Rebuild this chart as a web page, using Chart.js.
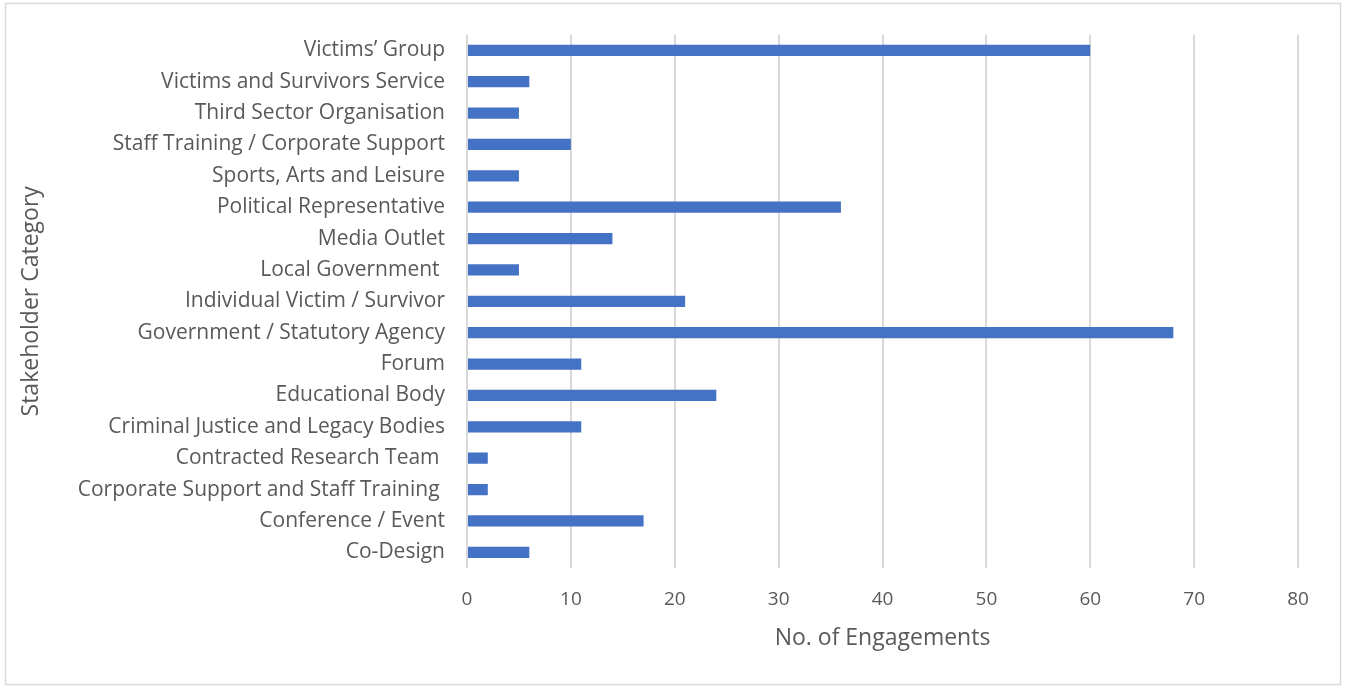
<!DOCTYPE html>
<html>
<head>
<meta charset="utf-8">
<script src="https://cdn.jsdelivr.net/npm/chart.js@4"></script>
<style>
  body { margin: 0; background: #fff; }
  #wrap { position: relative; width: 1346px; height: 686px; }
</style>
</head>
<body>
<div id="wrap"><canvas id="chart"></canvas></div>
<script>
// Categories, top to bottom as shown in the chart
const categories = [
    'Victims’ Group',
    'Victims and Survivors Service',
    'Third Sector Organisation',
    'Staff Training / Corporate Support',
    'Sports, Arts and Leisure',
    'Political Representative',
    'Media Outlet',
    'Local Government ',
    'Individual Victim / Survivor',
    'Government / Statutory Agency',
    'Forum',
    'Educational Body',
    'Criminal Justice and Legacy Bodies',
    'Contracted Research Team ',
    'Corporate Support and Staff Training ',
    'Conference / Event',
    'Co-Design'
];

// No. of engagements per category
const engagements = [60, 6, 5, 10, 5, 36, 14, 5, 21, 68, 11, 24, 11, 2, 2, 17, 6];

const xTicks = [0, 10, 20, 30, 40, 50, 60, 70, 80];

const fontFamily = '"Open Sans", sans-serif';
const textColor = '#595959';

// Light grey frame around the whole chart
const framePlugin = {
    id: 'frame',
    afterDraw: function (chart) {
        let ctx = chart.ctx;
        ctx.save();
        ctx.strokeStyle = '#d9d9d9';
        ctx.lineWidth = 1.5;
        ctx.strokeRect(5.5, 3.5, 1335, 681);
        ctx.restore();
    }
};

let ctx = document.getElementById('chart').getContext('2d');

let myChart = new Chart(ctx, {
    type: 'bar',
    data: {
        labels: categories,
        datasets: [{
            label: 'No. of Engagements',
            data: engagements,
            backgroundColor: '#4472c4',
            borderWidth: 0,
            categoryPercentage: 1,
            barPercentage: 0.36
        }]
    },
    options: {
        indexAxis: 'y',
        responsive: true,
        maintainAspectRatio: false,
        animation: false,
        layout: {
            padding: { left: 0, right: 48, top: 34, bottom: 0 }
        },
        plugins: {
            legend: { display: false },
            tooltip: { enabled: false }
        },
        scales: {
            x: {
                min: 0,
                max: 80,
                afterBuildTicks: function (axis) {
                    axis.ticks = xTicks.map(function (v) { return { value: v }; });
                },
                afterFit: function (axis) {
                    axis.height = 686 - 568;
                },
                grid: {
                    color: '#d9d9d9',
                    lineWidth: 2,
                    drawTicks: false
                },
                border: { display: false },
                ticks: {
                    color: textColor,
                    padding: 20,
                    font: { family: fontFamily, size: 19 }
                },
                title: {
                    display: true,
                    text: 'No. of Engagements',
                    color: textColor,
                    padding: { top: 0, bottom: 34 },
                    font: { family: fontFamily, size: 23 }
                }
            },
            y: {
                afterFit: function (axis) {
                    axis.width = 467;
                },
                grid: { display: false, drawTicks: false },
                border: { display: false },
                ticks: {
                    color: textColor,
                    padding: 22,
                    font: { family: fontFamily, size: 21 }
                },
                title: {
                    display: true,
                    text: 'Stakeholder Category',
                    color: textColor,
                    padding: { top: 18, bottom: 0 },
                    font: { family: fontFamily, size: 23 }
                }
            }
        }
    },
    plugins: [framePlugin]
});
</script>
</body>
</html>
